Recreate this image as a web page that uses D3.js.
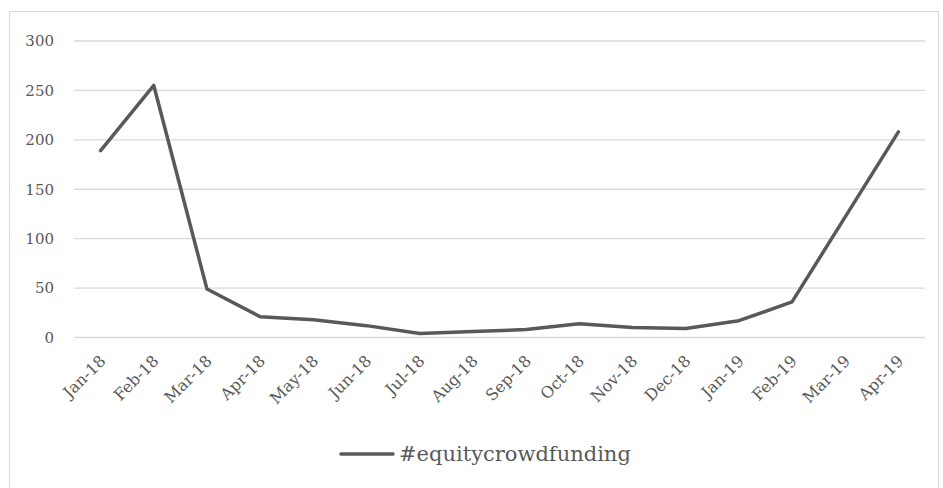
<!DOCTYPE html>
<html>
<head>
<meta charset="utf-8">
<script src="https://cdn.jsdelivr.net/npm/d3@7"></script>
<style>
  body { margin: 0; background: #fff; }
  text { font-family: "DejaVu Serif", "Liberation Serif", serif; fill: #595959; }
</style>
</head>
<body>
<svg id="chart" width="943" height="488"></svg>
<script>
var months = ["Jan-18", "Feb-18", "Mar-18", "Apr-18", "May-18", "Jun-18", "Jul-18", "Aug-18",
              "Sep-18", "Oct-18", "Nov-18", "Dec-18", "Jan-19", "Feb-19", "Mar-19", "Apr-19"];
var counts = [189, 255, 49, 21, 18, 12, 4, 6, 8, 14, 10, 9, 17, 36, 122, 208];
var yTicks = [0, 50, 100, 150, 200, 250, 300];
var seriesName = "#equitycrowdfunding";

var svg = d3.select("#chart");

// outer frame
svg.append("rect")
    .attr("x", 9.5).attr("y", 11.5)
    .attr("width", 929).attr("height", 480)
    .attr("fill", "none")
    .attr("stroke", "#d9d9d9")
    .attr("stroke-width", 1);

var x = d3.scalePoint()
    .domain(months)
    .range([74, 925])
    .padding(0.5);

var y = d3.scaleLinear()
    .domain([0, 300])
    .range([337.5, 41]);

// grid
svg.append("g")
    .selectAll("line")
    .data(yTicks)
    .enter().append("line")
    .attr("x1", 74).attr("x2", 925)
    .attr("y1", function(d) { return y(d); })
    .attr("y2", function(d) { return y(d); })
    .attr("stroke", "#d9d9d9")
    .attr("stroke-width", 1.3);

// y labels
svg.append("g")
    .selectAll("text")
    .data(yTicks)
    .enter().append("text")
    .attr("x", 54)
    .attr("y", function(d) { return y(d); })
    .attr("dy", "0.36em")
    .style("text-anchor", "end")
    .style("font-size", "15px")
    .text(function(d) { return d; });

// x labels
svg.append("g")
    .selectAll("text")
    .data(months)
    .enter().append("text")
    .attr("transform", function(d) {
        return "translate(" + (x(d) + 6) + ",362) rotate(-45)";
    })
    .style("text-anchor", "end")
    .style("font-size", "16px")
    .text(function(d) { return d; });

var line = d3.line()
    .x(function(d, i) { return x(months[i]); })
    .y(function(d) { return y(d); });

svg.append("path")
    .datum(counts)
    .attr("d", line)
    .attr("fill", "none")
    .attr("stroke", "#595959")
    .attr("stroke-width", 3.5)
    .attr("stroke-linejoin", "round")
    .attr("stroke-linecap", "round");

// legend
svg.append("line")
    .attr("x1", 341).attr("x2", 393)
    .attr("y1", 454).attr("y2", 454)
    .attr("stroke", "#595959")
    .attr("stroke-width", 3.5)
    .attr("stroke-linecap", "round");

svg.append("text")
    .attr("x", 399)
    .attr("y", 461)
    .style("font-size", "21px")
    .text(seriesName);
</script>
</body>
</html>
